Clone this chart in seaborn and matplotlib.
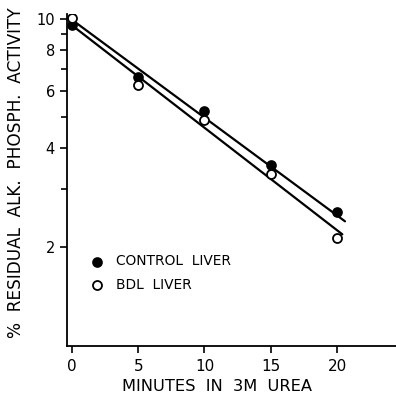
import numpy as np
import pandas as pd
import matplotlib
matplotlib.use("Agg")
import matplotlib.pyplot as plt
import seaborn as sns
from matplotlib.ticker import FixedLocator, NullFormatter

# ---- data ----
minutes = [0, 5, 10, 15, 20]
control_liver = [9.6, 6.65, 5.2, 3.56, 2.55]
bdl_liver = [10.05, 6.27, 4.9, 3.34, 2.13]

# hand-drawn regression lines (end points)
control_line_x = [0, 20.6]
control_line_y = [9.93, 2.39]
bdl_line_x = [0, 20.4]
bdl_line_y = [9.55, 2.18]

series_labels = ["CONTROL  LIVER", "BDL  LIVER"]
x_ticks = [0, 5, 10, 15, 20]
y_major = [2, 4, 6, 8, 10]
y_minor = [3, 5, 7, 9]

sns.set_theme(style="ticks")
plt.rcParams['font.family'] = ['DejaVu Sans']
plt.rcParams['text.color'] = 'black'

fig = plt.figure(figsize=(3.96, 3.99), dpi=100)
ax = fig.add_axes([0.170, 0.1328, 0.830, 0.832])

df_c = pd.DataFrame({"minutes": minutes, "activity": control_liver})
df_b = pd.DataFrame({"minutes": minutes, "activity": bdl_liver})
lc = pd.DataFrame({"x": control_line_x, "y": control_line_y})
lb = pd.DataFrame({"x": bdl_line_x, "y": bdl_line_y})

sns.lineplot(data=lc, x="x", y="y", color="black", linewidth=1.6, ax=ax)
sns.lineplot(data=lb, x="x", y="y", color="black", linewidth=1.6, ax=ax)
sns.scatterplot(data=df_c, x="minutes", y="activity", color="black",
                edgecolor="black", s=42, linewidth=1.2, ax=ax,
                label=series_labels[0], zorder=5)
sns.scatterplot(data=df_b, x="minutes", y="activity", color="white",
                edgecolor="black", s=42, linewidth=1.3, ax=ax,
                label=series_labels[1], zorder=5)

ax.set_yscale("log")
ax.set_xlim(-0.35, 24.45)
ax.set_ylim(0.99, 10.34)
ax.set_xticks(x_ticks)
ax.set_xticklabels([str(t) for t in x_ticks], fontsize=11)
ax.yaxis.set_major_locator(FixedLocator(y_major))
ax.set_yticklabels([str(t) for t in y_major], fontsize=10.5)
ax.yaxis.set_minor_locator(FixedLocator(y_minor))
ax.yaxis.set_minor_formatter(NullFormatter())
ax.tick_params(axis="both", which="major", direction="out", length=5,
               width=1.2, color="black", labelcolor="black", pad=4)
ax.tick_params(axis="y", which="minor", direction="out", length=4,
               width=1.2, color="black")

for s in ["top", "right"]:
    ax.spines[s].set_visible(False)
for s in ["left", "bottom"]:
    ax.spines[s].set_color("black")
    ax.spines[s].set_linewidth(1.3)

ax.set_xlabel("MINUTES  IN  3M  UREA", fontsize=11.7, labelpad=4, color="black")
ax.xaxis.label.set_x(0.455)
ax.set_ylabel("%  RESIDUAL  ALK.  PHOSPH.  ACTIVITY", fontsize=12.2,
              labelpad=8, color="black")
ax.yaxis.label.set_y(0.521)

leg = ax.legend(loc="upper left", bbox_to_anchor=(0.047, 0.297), frameon=False,
                fontsize=9.9, handletextpad=0.95, labelspacing=0.7,
                borderpad=0, handlelength=1.0, labelcolor="black")

fig.savefig("out.png", dpi=100)
